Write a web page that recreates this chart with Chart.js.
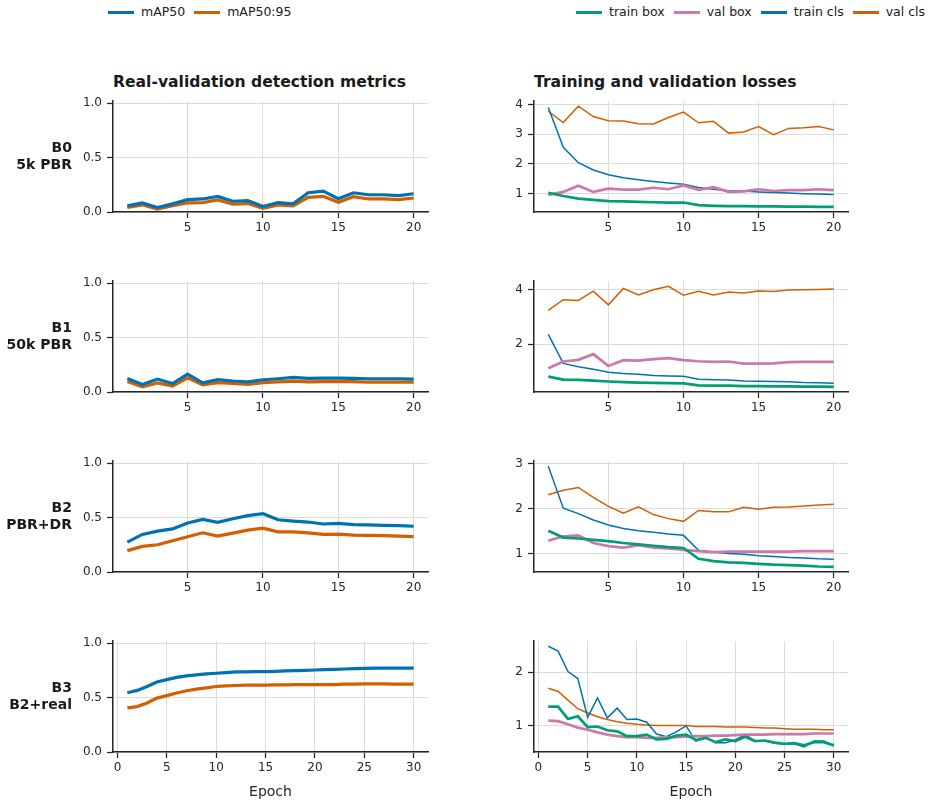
<!DOCTYPE html>
<html>
<head>
<meta charset="utf-8">
<script src="https://cdn.jsdelivr.net/npm/chart.js@4.4.1/dist/chart.umd.min.js"></script>
<style>
  body { margin: 0; width: 929px; height: 805px; position: relative; background: #fff;
         font-family: "DejaVu Sans", sans-serif; color: #1a1a1a; overflow: hidden; }
  .panel { position: absolute; }
  .rowlab { position: absolute; right: 857px; text-align: right; font-weight: bold;
            font-size: 14px; line-height: 17px; z-index: 2; }
  .ttl { position: absolute; font-weight: bold; font-size: 15.6px; line-height: 18px; white-space: nowrap; }
  .legend { position: absolute; top: 4px; display: flex; font-size: 12.5px; line-height: 16px; white-space: nowrap; }
  .legend .item { display: flex; align-items: center; margin-right: 9px; flex: none; }
  .legend .swatch { width: 26px; height: 3px; margin-right: 7px; }
</style>
</head>
<body>
<div class="legend" id="legL" style="left:108px"></div>
<div class="legend" id="legR" style="left:576px"></div>
<div class="ttl" style="left:113px; top:73px">Real-validation detection metrics</div>
<div class="ttl" style="left:534px; top:73px">Training and validation losses</div>

<script>
// ---- data ----
const epochs20 = [1,2,3,4,5,6,7,8,9,10,11,12,13,14,15,16,17,18,19,20];
const epochs30 = [1,2,3,4,5,6,7,8,9,10,11,12,13,14,15,16,17,18,19,20,21,22,23,24,25,26,27,28,29,30];

const rowLabels = [['B0', '5k PBR'], ['B1', '50k PBR'], ['B2', 'PBR+DR'], ['B3', 'B2+real']];
const mapNames = ['mAP50', 'mAP50:95'];
const lossNames = ['train box', 'val box', 'train cls', 'val cls'];

const mapTicks = [0, 0.5, 1.0];
const lossTicks = [[1, 2, 3, 4], [2, 4], [1, 2, 3], [1, 2]];
const xTicks20 = [5, 10, 15, 20];
const xTicks30 = [0, 5, 10, 15, 20, 25, 30];

// B0
const b0Map50   = [0.057,0.084,0.042,0.075,0.114,0.120,0.144,0.099,0.105,0.051,0.087,0.075,0.177,0.192,0.123,0.177,0.159,0.159,0.150,0.168];
const b0Map5095 = [0.042,0.066,0.027,0.057,0.084,0.087,0.111,0.072,0.078,0.033,0.066,0.057,0.135,0.144,0.090,0.141,0.120,0.120,0.114,0.129];
const b0TrainBox = [1.02,0.91,0.82,0.78,0.74,0.73,0.71,0.70,0.69,0.69,0.60,0.58,0.57,0.57,0.56,0.56,0.55,0.55,0.54,0.54];
const b0ValBox   = [0.95,1.05,1.26,1.05,1.16,1.13,1.13,1.19,1.14,1.27,1.12,1.21,1.05,1.07,1.14,1.08,1.11,1.11,1.14,1.11];
const b0TrainCls = [3.91,2.56,2.04,1.79,1.63,1.53,1.46,1.40,1.35,1.31,1.20,1.14,1.09,1.08,1.05,1.03,1.01,0.99,0.98,0.96];
const b0ValCls   = [3.78,3.40,3.95,3.60,3.46,3.45,3.36,3.35,3.57,3.75,3.39,3.44,3.04,3.08,3.26,2.99,3.20,3.22,3.26,3.15];

// B1
const b1Map50   = [0.125,0.069,0.119,0.078,0.164,0.084,0.113,0.101,0.093,0.113,0.122,0.134,0.125,0.128,0.128,0.125,0.122,0.122,0.122,0.119];
const b1Map5095 = [0.096,0.048,0.084,0.054,0.131,0.066,0.087,0.078,0.069,0.087,0.093,0.101,0.093,0.096,0.096,0.096,0.090,0.090,0.090,0.090];
const b1TrainBox = [0.82,0.71,0.70,0.67,0.64,0.62,0.60,0.59,0.58,0.57,0.50,0.49,0.49,0.47,0.47,0.46,0.46,0.45,0.45,0.44];
const b1ValBox   = [1.12,1.37,1.43,1.64,1.21,1.42,1.40,1.46,1.49,1.42,1.38,1.36,1.37,1.29,1.29,1.30,1.35,1.36,1.36,1.36];
const b1TrainCls = [2.36,1.30,1.18,1.09,0.98,0.93,0.90,0.86,0.84,0.83,0.72,0.70,0.69,0.66,0.65,0.64,0.63,0.60,0.59,0.58];
const b1ValCls   = [3.24,3.63,3.60,3.94,3.44,4.04,3.80,3.99,4.12,3.79,3.94,3.80,3.91,3.87,3.95,3.93,3.98,3.99,4.00,4.02];

// B2
const b2Map50   = [0.275,0.346,0.376,0.397,0.451,0.484,0.457,0.490,0.519,0.537,0.481,0.469,0.460,0.442,0.448,0.436,0.433,0.430,0.427,0.421];
const b2Map5095 = [0.197,0.236,0.251,0.287,0.325,0.361,0.331,0.358,0.385,0.403,0.370,0.370,0.361,0.346,0.349,0.340,0.337,0.334,0.331,0.325];
const b2TrainBox = [1.51,1.36,1.34,1.31,1.28,1.24,1.21,1.18,1.15,1.13,0.89,0.84,0.81,0.80,0.78,0.76,0.75,0.74,0.72,0.71];
const b2ValBox   = [1.29,1.39,1.41,1.24,1.17,1.14,1.19,1.14,1.12,1.09,1.06,1.04,1.05,1.05,1.05,1.05,1.05,1.06,1.06,1.06];
const b2TrainCls = [2.94,2.01,1.89,1.75,1.64,1.56,1.51,1.48,1.44,1.41,1.08,1.04,1.01,0.99,0.96,0.94,0.92,0.91,0.89,0.88];
const b2ValCls   = [2.31,2.41,2.47,2.25,2.05,1.90,2.04,1.87,1.78,1.72,1.96,1.93,1.93,2.03,1.99,2.03,2.04,2.06,2.08,2.10];

// B3
const b3Map50   = [0.546,0.567,0.603,0.645,0.666,0.687,0.701,0.710,0.719,0.725,0.731,0.737,0.737,0.740,0.740,0.743,0.746,0.749,0.752,0.755,0.758,0.761,0.764,0.767,0.770,0.773,0.773,0.773,0.773,0.773];
const b3Map5095 = [0.406,0.418,0.451,0.496,0.519,0.543,0.564,0.579,0.591,0.603,0.609,0.612,0.615,0.615,0.615,0.618,0.618,0.621,0.621,0.621,0.621,0.621,0.624,0.624,0.627,0.627,0.627,0.624,0.624,0.624];
const b3TrainBox = [1.36,1.36,1.13,1.18,0.98,0.99,0.92,0.90,0.81,0.81,0.84,0.75,0.76,0.82,0.84,0.74,0.78,0.70,0.75,0.72,0.80,0.72,0.73,0.69,0.67,0.68,0.64,0.70,0.70,0.64];
const b3ValBox   = [1.10,1.09,1.03,0.97,0.93,0.88,0.84,0.81,0.79,0.79,0.78,0.78,0.79,0.79,0.80,0.81,0.81,0.82,0.82,0.83,0.84,0.84,0.84,0.85,0.85,0.85,0.85,0.86,0.86,0.86];
const b3TrainCls = [2.48,2.39,2.01,1.88,1.16,1.52,1.15,1.33,1.12,1.13,1.07,0.85,0.80,0.89,1.00,0.72,0.79,0.69,0.69,0.74,0.84,0.72,0.72,0.68,0.66,0.67,0.61,0.72,0.72,0.63];
const b3ValCls   = [1.70,1.64,1.48,1.32,1.24,1.17,1.12,1.08,1.05,1.03,1.02,1.01,1.01,1.01,1.01,0.99,0.99,0.99,0.98,0.98,0.98,0.97,0.96,0.96,0.95,0.94,0.94,0.94,0.93,0.93];

// ---- styling ----
const mapColors = ['#0072B2', '#D55E00'];
const mapWidths = [3.2, 3.2];
const lossColors = ['#009E73', '#CC79A7', '#0072B2', '#D55E00'];
const lossWidths = [2.7, 2.7, 1.5, 1.5];

const INK = '#262626';
const GRID = '#dcdcdc';
const PLOT_W_L = 315, PLOT_W_R = 314, PLOT_H = 113;
const SPINE_L = 113, SPINE_R = 534;
const rowTops = [99, 279, 459, 639];
const Y_AXIS_W = 50, PAD_TOP = 10, PAD_RIGHT = 10;

Chart.defaults.font.family = '"DejaVu Sans", sans-serif';
Chart.defaults.color = INK;

function buildLegend(id, names, colors) {
  const el = document.getElementById(id);
  names.forEach((n, i) => {
    const it = document.createElement('div');
    it.className = 'item';
    const sw = document.createElement('span');
    sw.className = 'swatch';
    sw.style.background = colors[i];
    it.appendChild(sw);
    const t = document.createElement('span');
    t.textContent = n;
    it.appendChild(t);
    el.appendChild(it);
  });
}
buildLegend('legL', mapNames, mapColors);
buildLegend('legR', lossNames, lossColors);

function makePanel(left, top, plotW, isBottom, epochs, series, names, colors, widths, yMin, yMax, yTicks, yFmt) {
  const xAxisH = isBottom ? 50 : 30;
  const w = Y_AXIS_W + plotW + PAD_RIGHT;
  const h = PAD_TOP + PLOT_H + xAxisH;
  const wrap = document.createElement('div');
  wrap.className = 'panel';
  wrap.style.left = (left - Y_AXIS_W) + 'px';
  wrap.style.top = (top - PAD_TOP) + 'px';
  wrap.style.width = w + 'px';
  wrap.style.height = h + 'px';
  const cv = document.createElement('canvas');
  cv.width = w; cv.height = h;
  wrap.appendChild(cv);
  document.body.appendChild(wrap);

  const n = epochs.length;
  const span = epochs[n - 1] - epochs[0];
  const xTicks = n > 20 ? xTicks30 : xTicks20;

  new Chart(cv, {
    type: 'line',
    data: {
      datasets: series.map((s, i) => ({
        label: names[i],
        data: s.map((v, j) => ({ x: epochs[j], y: v })),
        borderColor: colors[i],
        borderWidth: widths[i],
        pointRadius: 0,
        tension: 0,
        fill: false,
      })),
    },
    options: {
      responsive: false,
      animation: false,
      layout: { padding: { top: PAD_TOP, right: PAD_RIGHT, left: 0, bottom: 0 } },
      plugins: { legend: { display: false }, tooltip: { enabled: false } },
      scales: {
        x: {
          type: 'linear',
          min: epochs[0] - 0.05 * span,
          max: epochs[n - 1] + 0.05 * span,
          afterBuildTicks: s => { s.ticks = xTicks.map(v => ({ value: v })); },
          afterFit: s => { s.height = xAxisH; },
          ticks: { font: { size: 12 }, color: INK, padding: 3, maxRotation: 0 },
          grid: { color: GRID, lineWidth: 1, tickLength: 6, tickColor: INK, tickWidth: 1.25 },
          border: { color: INK, width: 1.5 },
          title: { display: isBottom, text: 'Epoch', font: { size: 14 }, color: INK, padding: { top: 0, bottom: 1 } },
        },
        y: {
          type: 'linear',
          min: yMin,
          max: yMax,
          afterBuildTicks: s => { s.ticks = yTicks.map(v => ({ value: v })); },
          afterFit: s => { s.width = Y_AXIS_W; },
          ticks: { font: { size: 12 }, color: INK, padding: 5, callback: yFmt },
          grid: { color: GRID, lineWidth: 1, tickLength: 6, tickColor: INK, tickWidth: 1.25 },
          border: { color: INK, width: 1.5 },
        },
      },
    },
  });
}

const mapRows = [[b0Map50, b0Map5095], [b1Map50, b1Map5095], [b2Map50, b2Map5095], [b3Map50, b3Map5095]];
const lossRows = [
  [b0TrainBox, b0ValBox, b0TrainCls, b0ValCls],
  [b1TrainBox, b1ValBox, b1TrainCls, b1ValCls],
  [b2TrainBox, b2ValBox, b2TrainCls, b2ValCls],
  [b3TrainBox, b3ValBox, b3TrainCls, b3ValCls],
];

rowTops.forEach((top, r) => {
  const last = r === rowTops.length - 1;
  const ep = last ? epochs30 : epochs20;

  makePanel(SPINE_L, top, PLOT_W_L, last, ep, mapRows[r], mapNames, mapColors, mapWidths,
    0, 1.02, mapTicks, v => v.toFixed(1));

  const all = lossRows[r].flat();
  const lo = Math.min(...all), hi = Math.max(...all);
  const pad = 0.05 * (hi - lo);
  makePanel(SPINE_R, top, PLOT_W_R, last, ep, lossRows[r], lossNames, lossColors, lossWidths,
    lo - pad, hi + pad, lossTicks[r], v => String(v));

  const lab = document.createElement('div');
  lab.className = 'rowlab';
  lab.style.top = (top + PLOT_H / 2 - 17) + 'px';
  lab.innerHTML = rowLabels[r].map(t => '<div>' + t + '</div>').join('');
  document.body.appendChild(lab);
});
</script>
</body>
</html>
